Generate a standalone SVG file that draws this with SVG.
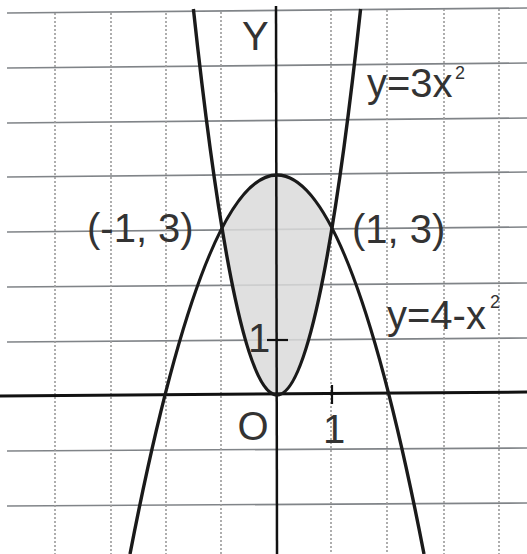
<svg xmlns="http://www.w3.org/2000/svg" width="527" height="554" viewBox="0 0 527 554">
  <style>
    .hgrid { stroke: #808488; stroke-width: 1.6; fill: none; }
    .vgrid { stroke: #9a9a9a; stroke-width: 1.6; stroke-dasharray: 2 2; fill: none; }
    .axis { stroke: #111; fill: none; }
    .curve { stroke: #1a1a1a; stroke-width: 3.4; fill: none; }
    .lbl { font-family: "Liberation Sans", Arial, sans-serif; font-size: 40px; fill: #333; }
    .sup { font-family: "Liberation Sans", Arial, sans-serif; font-size: 18px; fill: #333; }
  </style>
  <rect width="527" height="554" fill="#ffffff"/>
  <g id="grid">
    <line class="hgrid" x1="7" y1="13" x2="527" y2="8"/>
    <line class="hgrid" x1="7" y1="68" x2="527" y2="63"/>
    <line class="hgrid" x1="7" y1="123" x2="527" y2="118"/>
    <line class="hgrid" x1="7" y1="177" x2="527" y2="172"/>
    <line class="hgrid" x1="7" y1="232" x2="527" y2="227"/>
    <line class="hgrid" x1="7" y1="287" x2="527" y2="283"/>
    <line class="hgrid" x1="7" y1="342" x2="527" y2="338"/>
    <line class="hgrid" x1="7" y1="451" x2="527" y2="448"/>
    <line class="hgrid" x1="7" y1="506" x2="527" y2="503"/>
    <line class="vgrid" x1="55" y1="13" x2="55" y2="554"/>
    <line class="vgrid" x1="111" y1="13" x2="111" y2="554"/>
    <line class="vgrid" x1="166" y1="13" x2="166" y2="554"/>
    <line class="vgrid" x1="221" y1="12" x2="221" y2="554"/>
    <line class="vgrid" x1="331" y1="10" x2="331" y2="554"/>
    <line class="vgrid" x1="387" y1="10" x2="387" y2="554"/>
    <line class="vgrid" x1="444" y1="9" x2="444" y2="554"/>
    <line class="vgrid" x1="499" y1="9" x2="499" y2="554"/>
  </g>
  <g id="region">
    <path d="M222,228 Q277,122 332,228 Q277,562 222,228 Z" fill="#dadada" fill-opacity="0.85"/>
  </g>
  <g id="axes">
    <line class="axis" x1="0" y1="396" x2="527" y2="392" stroke-width="3"/>
    <line class="axis" x1="276" y1="6" x2="277" y2="554" stroke-width="2.5"/>
    <line class="axis" x1="267" y1="340" x2="288" y2="340" stroke-width="2.2"/>
    <line class="axis" x1="332" y1="385" x2="332" y2="404" stroke-width="2.2"/>
  </g>
  <g id="curves">
    <path id="curve-3x2" class="curve" d="M193.4,9 Q277,781 360.6,9"/>
    <path id="curve-4-x2" class="curve" d="M130,554 Q277,-204 424,554"/>
  </g>
  <g id="labels">
    <text class="lbl" x="242" y="50">Y</text>
    <text class="lbl" x="367" y="97">y=3x</text>
    <text class="sup" x="455" y="79">2</text>
    <text class="lbl" x="87" y="242">(-1, 3)</text>
    <text class="lbl" x="352" y="243">(1, 3)</text>
    <text class="lbl" x="387" y="329">y=4-x</text>
    <text class="sup" x="490" y="308">2</text>
    <text class="lbl" x="259" y="352" text-anchor="middle">1</text>
    <text class="lbl" x="253" y="440" text-anchor="middle">O</text>
    <text class="lbl" x="334" y="443" text-anchor="middle">1</text>
  </g>
</svg>
